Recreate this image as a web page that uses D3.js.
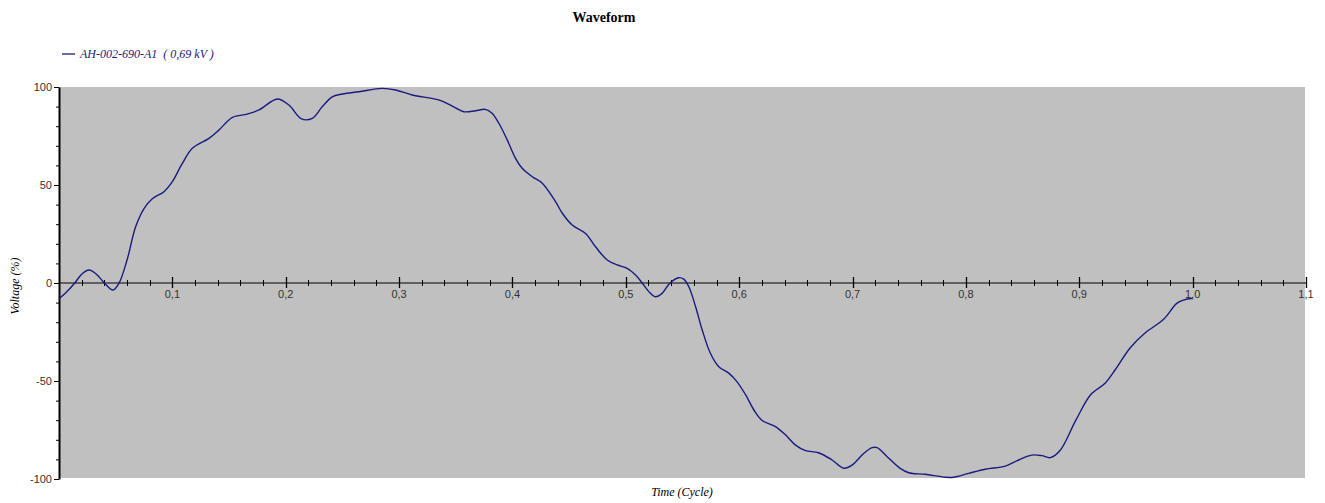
<!DOCTYPE html>
<html>
<head>
<meta charset="utf-8">
<script src="https://cdn.jsdelivr.net/npm/d3@7"></script>
<style>
  html, body { margin: 0; padding: 0; background: #fff; }
  svg { display: block; }
</style>
</head>
<body>
<svg id="chart" width="1325" height="503"></svg>
<script>
// ---- data ----
const seriesName = "AH-002-690-A1  ( 0,69 kV )";
const time = [0.000,0.006,0.0139,0.020,0.0265,0.033,0.040,0.0476,0.053,0.060,0.0676,0.075,0.0823,0.0926,0.100,0.1088,0.1176,0.1323,0.141,0.153,0.166,0.1764,0.1926,0.2028,0.214,0.2234,0.2323,0.241,0.250,0.2646,0.285,0.297,0.3116,0.335,0.347,0.357,0.3675,0.376,0.382,0.388,0.3954,0.4027,0.4086,0.4175,0.4263,0.438,0.444,0.4527,0.4645,0.4733,0.4836,0.4924,0.5012,0.5086,0.5145,0.5203,0.526,0.532,0.539,0.5467,0.551,0.5556,0.5615,0.5674,0.5747,0.582,0.5908,0.598,0.6056,0.613,0.620,0.632,0.641,0.6497,0.6585,0.670,0.682,0.6923,0.6996,0.710,0.7173,0.7217,0.7305,0.742,0.7496,0.764,0.782,0.789,0.8025,0.817,0.8348,0.8466,0.858,0.867,0.8745,0.883,0.897,0.910,0.923,0.932,0.945,0.958,0.9744,0.986,0.992,1.000];
const voltage = [-8.0,-5.0,0,4.5,6.6,4.5,0,-3.6,0,11.7,28.7,38,43,46.6,51.7,61,68.7,73.8,78,84.5,86.2,88.3,93.9,90.8,83.7,84,90,95,96.4,97.6,99.3,98.5,95.9,93.4,90.3,87.4,87.9,88.6,86.6,81.5,73,63.6,58.5,54.2,50.9,41.5,35.6,29.6,25.3,18.5,11.7,9.2,7.5,4.1,0,-4.4,-7,-5.3,0,2.7,2,-1.9,-12,-24,-36,-42.7,-46,-50.3,-57,-64.8,-70,-73.3,-77.6,-82.7,-85.5,-86.6,-90.3,-94.5,-92.9,-86.9,-84,-84,-88.6,-94.6,-96.8,-97.6,-99.1,-99.1,-97.1,-95,-93.4,-90.3,-87.8,-88.1,-89.1,-85.5,-70,-57,-51,-44,-33,-25.5,-18.5,-10.4,-8.7,-7.8];
const xMajorTicks = [0.1,0.2,0.3,0.4,0.5,0.6,0.7,0.8,0.9,1.0,1.1];
const xTickLabels = ["0,1","0,2","0,3","0,4","0,5","0,6","0,7","0,8","0,9","1,0","1,1"];
const yMajorTicks = [100,50,0,-50,-100];
const yTickLabels = ["100","50","0","-50","-100"];

// ---- layout ----
const svg = d3.select("#chart");
const pLeft = 59, pRight = 1306, pTop = 87, pBottom = 479;
const x = d3.scaleLinear().domain([0, 1.1]).range([pLeft, pRight]);
const y = d3.scaleLinear().domain([-100, 100]).range([pBottom, pTop]);
const lineColor = "#1a1a80";

// plot background
svg.append("rect")
  .attr("x", pLeft).attr("y", pTop)
  .attr("width", pRight - pLeft - 1).attr("height", pBottom - pTop - 1)
  .attr("fill", "#c0c0c0");

// title
svg.append("text")
  .attr("x", 604).attr("y", 22)
  .attr("text-anchor", "middle")
  .attr("font-family", "Liberation Serif")
  .attr("font-weight", "bold")
  .attr("font-size", 14)
  .attr("fill", "#000")
  .text("Waveform");

// legend
svg.append("line")
  .attr("x1", 62).attr("x2", 75).attr("y1", 54).attr("y2", 54)
  .attr("stroke", lineColor).attr("stroke-width", 1.3);
svg.append("text")
  .attr("x", 80).attr("y", 58)
  .attr("font-family", "Liberation Serif")
  .attr("font-style", "italic")
  .attr("font-size", 12)
  .attr("fill", lineColor)
  .style("white-space", "pre")
  .text(seriesName);

// y axis
const yAxis = d3.axisLeft(y).tickValues(yMajorTicks)
  .tickFormat((d, i) => yTickLabels[i]).tickSize(5).tickSizeOuter(0);
const yMinor = d3.axisLeft(y).tickValues(d3.range(-100, 101, 10).filter(v => v % 50 !== 0))
  .tickFormat("").tickSize(3).tickSizeOuter(0);
const gy = svg.append("g").attr("transform", `translate(${pLeft},0)`).call(yAxis);
svg.append("g").attr("transform", `translate(${pLeft},0)`).call(yMinor)
  .select(".domain").remove();
gy.select(".domain").attr("stroke", "#000").attr("stroke-width", 2);
gy.selectAll(".tick line").attr("stroke", "#000");
gy.selectAll(".tick text")
  .attr("font-family", "Liberation Sans").attr("font-size", 11)
  .attr("fill", "#333").attr("x", -7);

// x axis at zero
const x0 = y(0);
const gx = svg.append("g").attr("transform", `translate(0,${x0})`);
gx.append("line").attr("x1", pLeft).attr("x2", pRight).attr("y1", 0).attr("y2", 0)
  .attr("stroke", "#000").attr("stroke-width", 1.2);
const minorT = d3.range(1, 56).map(i => i * 0.02).filter(v => Math.abs(v * 10 - Math.round(v * 10)) > 1e-6);
gx.selectAll("line.minor").data(minorT).enter().append("line")
  .attr("class", "minor")
  .attr("x1", d => Math.round(x(d)) + 0.5).attr("x2", d => Math.round(x(d)) + 0.5)
  .attr("y1", -3).attr("y2", 3)
  .attr("stroke", "#000");
gx.selectAll("line.major").data(xMajorTicks).enter().append("line")
  .attr("class", "major")
  .attr("x1", d => Math.round(x(d)) + 0.5).attr("x2", d => Math.round(x(d)) + 0.5)
  .attr("y1", -6).attr("y2", 5)
  .attr("stroke", "#000").attr("stroke-width", 1.3);
gx.selectAll("text").data(xMajorTicks).enter().append("text")
  .attr("x", d => x(d)).attr("y", 15)
  .attr("text-anchor", "middle")
  .attr("font-family", "Liberation Sans").attr("font-size", 11)
  .attr("fill", "#333")
  .text((d, i) => xTickLabels[i]);

// axis titles
svg.append("text")
  .attr("x", 682).attr("y", 496)
  .attr("text-anchor", "middle")
  .attr("font-family", "Liberation Serif").attr("font-style", "italic")
  .attr("font-size", 12).attr("fill", "#000")
  .text("Time (Cycle)");
svg.append("text")
  .attr("transform", "translate(19,286) rotate(-90)")
  .attr("text-anchor", "middle")
  .attr("font-family", "Liberation Serif").attr("font-style", "italic")
  .attr("font-size", 12).attr("fill", "#000")
  .text("Voltage (%)");

// waveform
const pts = time.map((t, i) => [t, voltage[i]]);
const line = d3.line().x(d => x(d[0])).y(d => y(d[1])).curve(d3.curveCatmullRom.alpha(0.5));
svg.append("path")
  .datum(pts)
  .attr("d", line)
  .attr("fill", "none")
  .attr("stroke", lineColor)
  .attr("stroke-width", 1.4);
</script>
</body>
</html>
